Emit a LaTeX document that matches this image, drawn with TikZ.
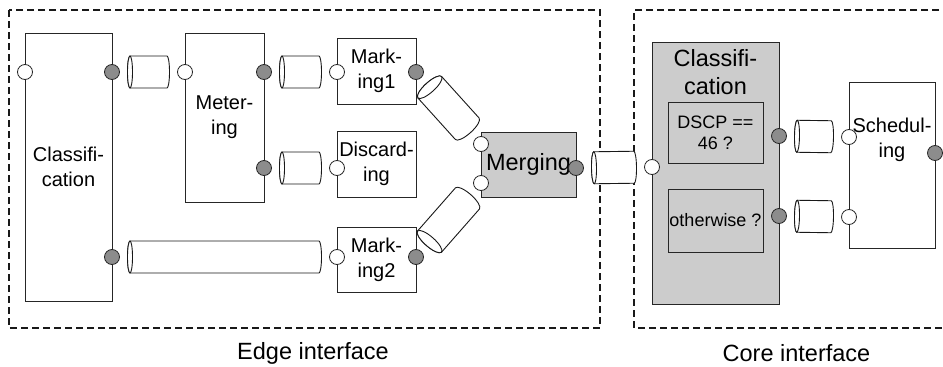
\documentclass[tikz,border=0pt]{standalone}
\usepackage{fontspec}
\setmainfont{Liberation Sans}
\usetikzlibrary{calc}

\tikzset{
  frame/.style={draw=black!90, line width=1.5pt, dash pattern=on 7pt off 4pt},
  box/.style={draw=black!85, line width=1pt, fill=white, align=center, inner sep=0pt},
  grey box/.style={box, fill=black!20},
  inport/.style={circle, draw=black!85, line width=0.8pt, fill=white, minimum size=15pt, inner sep=0pt},
  outport/.style={inport, fill=black!45},
  pipe line/.style={draw=black!90, line width=0.9pt, fill=white},
  txt/.style={font=\fontsize{20}{25}\selectfont},
  bigtxt/.style={font=\fontsize{23.5}{28}\selectfont},
  smalltxt/.style={font=\fontsize{18}{21}\selectfont},
  % half body length, end radius
  pics/pipe/.style 2 args={code={
    \draw[pipe line] ({0pt-#1},16pt) -- ({#1+0pt},16pt)
      arc[start angle=90, end angle=-90, x radius=#2, y radius=16pt]
      -- ({0pt-#1},-16pt)
      arc[start angle=270, end angle=90, x radius=#2, y radius=16pt] -- cycle;
    \draw[pipe line] ({0pt-#1},0pt) ellipse[x radius=#2, y radius=16pt];
  }},
}

% pipe between two ports: name, from, to, end radius
\newcommand{\drawpipe}[4]{%
  \path let \p1 = ($(#3)-(#2)$), \n1 = {atan2(\y1,\x1)}, \n2 = {(veclen(\x1,\y1)-31)/2-#4}
    in pic[rotate=\n1] (#1) at ($(#2)!0.5!(#3)$) {pipe={\n2}{#4pt}};}

\begin{document}
\begin{tikzpicture}[x=1pt, y=-1pt]
  \useasboundingbox (0,0) rectangle (943,367);

  % interfaces
  \draw[frame] (9,10) rectangle (600,328);
  \draw[frame] (950,10) -| (634,328) -- (950,328);
  \node[bigtxt] (edge-lbl) at (313,353) {Edge interface};
  \node[bigtxt] (core-lbl) at (796.5,353) {Core interface};

  % edge blocks
  \node[box, txt, minimum width=87, minimum height=268] (cls) at (68.5,167) {Classifi-\\cation};
  \node[box, txt, minimum width=79, minimum height=169] (meter) at (224.5,117.5) {Meter-\\ing};
  \node[box, txt, minimum width=79, minimum height=66] (mark1) at (376.5,71) {Mark-\\ing1};
  \node[box, txt, minimum width=79, minimum height=66] (discard) at (376.5,164) {Discard-\\ing};
  \node[box, txt, minimum width=79, minimum height=65] (mark2) at (376.5,259.5) {Mark-\\ing2};
  \node[grey box, bigtxt, minimum width=95, minimum height=65] (merge) at (528.5,164.5) {Merging};

  % core blocks
  \node[grey box, minimum width=127, minimum height=262] (cclass) at (715.5,173) {};
  \node[bigtxt, align=center] (cclass-txt) at (715.5,72) {Classifi-\\cation};
  \node[grey box, smalltxt, minimum width=95, minimum height=61] (dscp) at (715.5,132.5) {DSCP ==\\46 ?};
  \node[grey box, smalltxt, minimum width=95, minimum height=63] (other) at (715.5,220.5) {otherwise ?};
  \node[box, minimum width=86, minimum height=166] (sched) at (892,165) {};
  \node[txt, align=center] (sched-txt) at (892,140) {Schedul-\\ing};

  % ports
  \node[inport] (cls-in) at (25,72) {};
  \node[outport] (cls-o1) at (112,72) {};
  \node[outport] (cls-o2) at (112,257) {};
  \node[inport] (meter-in) at (185,72) {};
  \node[outport] (meter-o1) at (264,72) {};
  \node[outport] (meter-o2) at (264,168) {};
  \node[inport] (mark1-in) at (337,72) {};
  \node[outport] (mark1-out) at (416,72) {};
  \node[inport] (discard-in) at (337,168) {};
  \node[inport] (mark2-in) at (337,257) {};
  \node[outport] (mark2-out) at (416,257) {};
  \node[inport] (merge-in1) at (481,144) {};
  \node[inport] (merge-in2) at (481,183) {};
  \node[outport] (merge-out) at (576,168) {};
  \node[inport] (cclass-in) at (652,167) {};
  \node[outport] (cclass-o1) at (779,136) {};
  \node[outport] (cclass-o2) at (779,216) {};
  \node[inport] (sched-in1) at (849,137) {};
  \node[inport] (sched-in2) at (849,217) {};
  \node[outport] (sched-out) at (935,153) {};

  % pipes
  \drawpipe{p1}{cls-o1}{meter-in}{2.5}
  \drawpipe{p2}{meter-o1}{mark1-in}{2.5}
  \drawpipe{p3}{meter-o2}{discard-in}{2.5}
  \drawpipe{p4}{cls-o2}{mark2-in}{2.5}
  \drawpipe{p5}{mark1-out}{merge-in1}{5}
  \drawpipe{p6}{mark2-out}{merge-in2}{5}
  \drawpipe{p7}{merge-out}{cclass-in}{2.5}
  \drawpipe{p8}{cclass-o1}{sched-in1}{2.5}
  \drawpipe{p9}{cclass-o2}{sched-in2}{2.5}
\end{tikzpicture}
\end{document}
